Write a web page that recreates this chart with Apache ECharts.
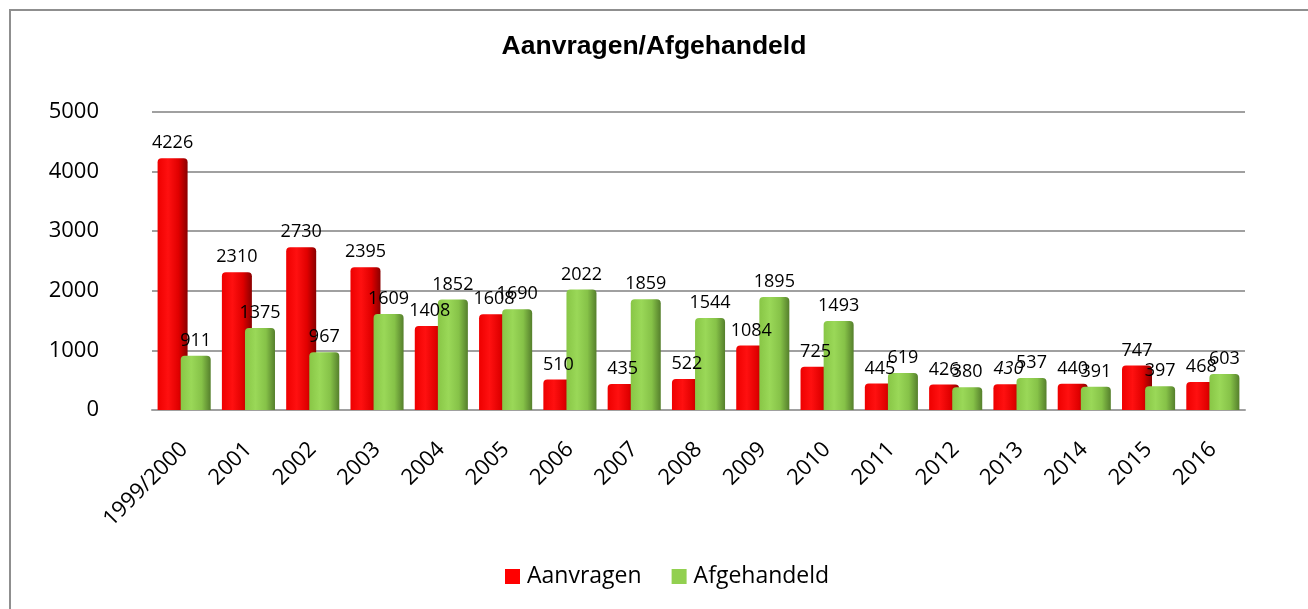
<!DOCTYPE html>
<html>
<head>
<meta charset="utf-8">
<script src="https://cdn.jsdelivr.net/npm/echarts@6/dist/echarts.min.js"></script>
<style>
html,body{margin:0;padding:0;background:#fff;overflow:hidden;}
#frame{position:absolute;left:9px;top:9px;width:1400px;height:700px;border:2px solid #8f8f8f;box-sizing:border-box;}
#chart{position:absolute;left:0;top:0;width:1308px;height:609px;}
</style>
</head>
<body>
<div id="frame"></div>
<div id="chart"></div>
<script>
const categories = ['1999/2000','2001','2002','2003','2004','2005','2006','2007','2008','2009','2010','2011','2012','2013','2014','2015','2016'];
const aanvragen = [4226,2310,2730,2395,1408,1608,510,435,522,1084,725,445,426,430,440,747,468];
const afgehandeld = [911,1375,967,1609,1852,1690,2022,1859,1544,1895,1493,619,380,537,391,397,603];
const yTicks = [0,1000,2000,3000,4000,5000];
const italicIndex = 13;

const font = '"Open Sans", "Noto Sans", sans-serif';
const redGrad = new echarts.graphic.LinearGradient(0,0,1,0,[
  {offset:0,color:'#ee0000'},{offset:0.35,color:'#ff1010'},{offset:0.7,color:'#e00000'},{offset:1,color:'#8a0000'}]);
const greenGrad = new echarts.graphic.LinearGradient(0,0,1,0,[
  {offset:0,color:'#88c646'},{offset:0.35,color:'#9ad858'},{offset:0.7,color:'#86c248'},{offset:1,color:'#557f2c'}]);

const chart = echarts.init(document.getElementById('chart'), null, {renderer:'canvas'});
chart.setOption({
  backgroundColor:'transparent',
  animation:false,
  title:{
    text:'Aanvragen/Afgehandeld', left:'center', top:28,
    textStyle:{fontFamily:'"Liberation Sans", Arial, sans-serif', fontWeight:'bold', fontSize:26.5, color:'#000'}
  },
  legend:{
    left:505, top:565, padding:0, itemWidth:15, itemHeight:15, itemGap:30, icon:'rect',
    textStyle:{fontFamily:font, fontSize:23, color:'#000', padding:[0,0,0,2]},
    data:[{name:'Aanvragen', itemStyle:{color:'#ff0000'}},{name:'Afgehandeld', itemStyle:{color:'#92d050'}}]
  },
  grid:{left:152, right:63, top:112, bottom:199, containLabel:false},
  xAxis:{
    type:'category', data:categories,
    axisLine:{show:true, lineStyle:{color:'#a0a0a0', width:2}},
    axisTick:{show:false},
    axisLabel:{rotate:45, margin:36, fontFamily:font, fontSize:22, color:'#000', interval:0}
  },
  yAxis:{
    type:'value', min:0, max:5000, interval:1000,
    axisLine:{show:false}, axisTick:{show:false},
    axisLabel:{margin:53, fontFamily:font, fontSize:22, color:'#000',
      formatter:function(v){return yTicks.indexOf(v)>=0 ? String(v) : '';}},
    splitLine:{show:true, lineStyle:{color:'#a0a0a0', width:2}}
  },
  series:[
    {
      name:'Aanvragen', type:'bar', barWidth:30, barGap:'-23%',
      data:aanvragen.map(function(v,i){return i===italicIndex ? {value:v, label:{fontStyle:'italic'}} : v;}),
      itemStyle:{color:redGrad, borderRadius:[4,4,0,0]},
      label:{show:true, position:'top', distance:6, fontFamily:font, fontSize:18, color:'#000'}
    },
    {
      name:'Afgehandeld', type:'bar', barWidth:30,
      data:afgehandeld,
      itemStyle:{color:greenGrad, borderRadius:[4,4,0,0]},
      label:{show:true, position:'top', distance:6, fontFamily:font, fontSize:18, color:'#000'}
    }
  ]
});
</script>
</body>
</html>
